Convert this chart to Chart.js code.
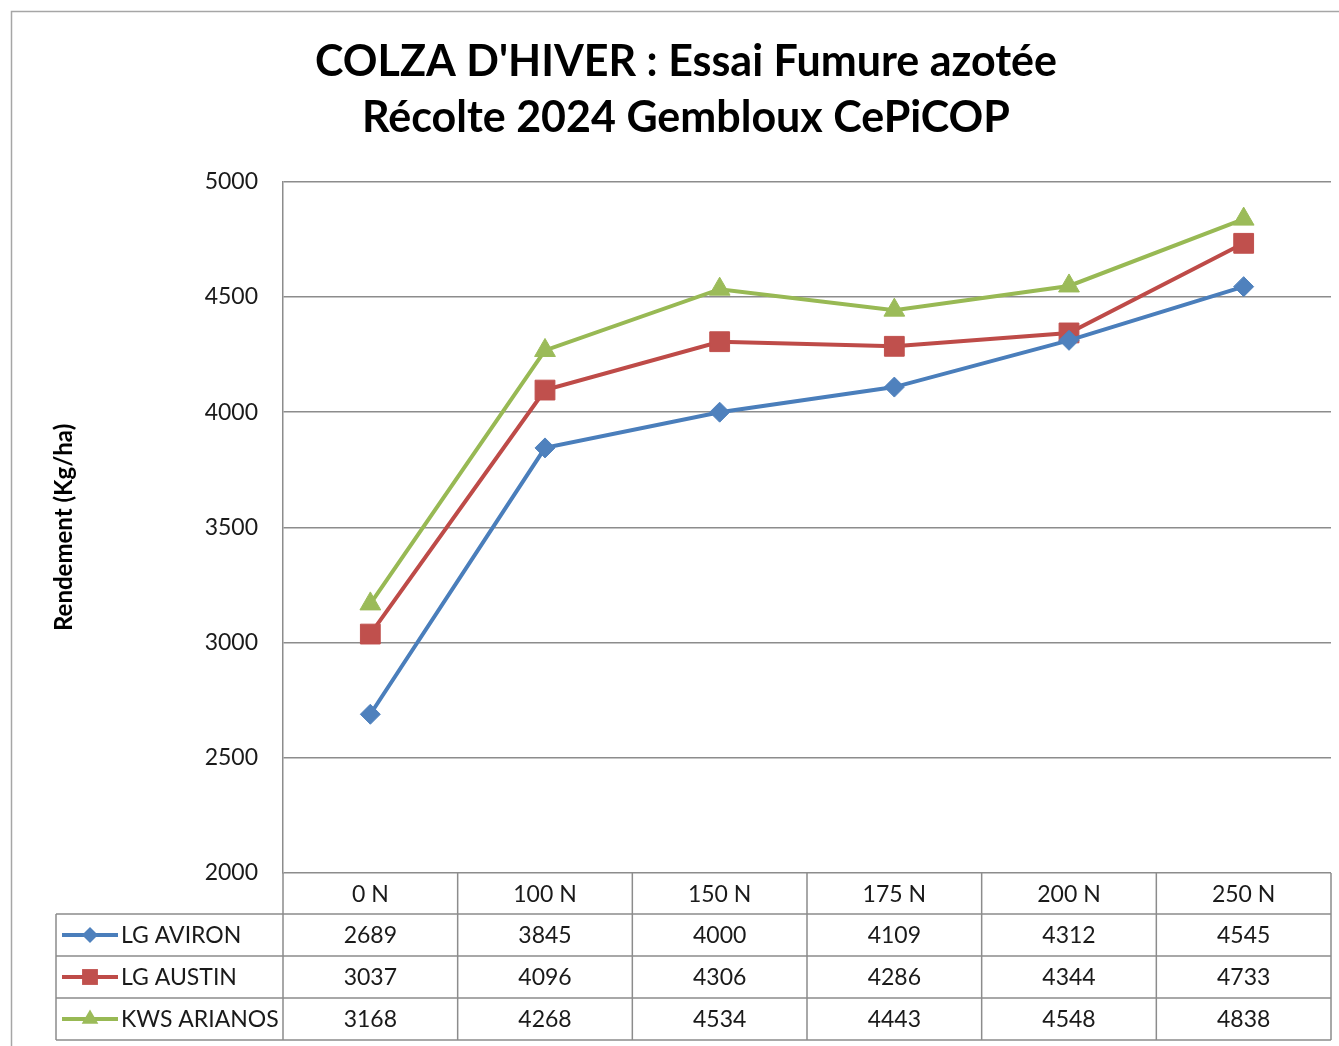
<!DOCTYPE html>
<html>
<head>
<meta charset="utf-8">
<script src="https://cdn.jsdelivr.net/npm/chart.js@4.4.1/dist/chart.umd.min.js"></script>
<style>
  body { margin: 0; background: #fff; overflow: hidden; }
  #wrap { width: 1339px; height: 1046px; }
  canvas { display: block; }
</style>
</head>
<body>
<div id="wrap"><canvas id="mycanvas" width="1339" height="1046"></canvas></div>
<script>
// data
var categories = ['0 N', '100 N', '150 N', '175 N', '200 N', '250 N'];
var seriesNames = ['LG AVIRON', 'LG AUSTIN', 'KWS ARIANOS'];
var lgAviron = [2689, 3845, 4000, 4109, 4312, 4545];
var lgAustin = [3037, 4096, 4306, 4286, 4344, 4733];
var kwsArianos = [3168, 4268, 4534, 4443, 4548, 4838];
var yMin = 2000, yMax = 5000, yStep = 500;

var FONT = 'Lato, "Open Sans", sans-serif';
var GRID = '#8c8c8c';

var seriesStyle = [
  { line: '#4a7ebb', fill: '#4f81bd', pointStyle: 'rectRot', radius: 10 },
  { line: '#be4b48', fill: '#c0504d', pointStyle: 'rect', radius: 14 },
  { line: '#98b954', fill: '#9bbb59', pointStyle: 'triangle', radius: 12 }
];
var seriesData = [lgAviron, lgAustin, kwsArianos];

var datasets = [];
for (var i = 0; i < seriesNames.length; i++) {
  datasets.push({
    label: seriesNames[i],
    data: seriesData[i],
    borderColor: seriesStyle[i].line,
    borderWidth: 4,
    backgroundColor: seriesStyle[i].fill,
    pointStyle: seriesStyle[i].pointStyle,
    pointRadius: seriesStyle[i].radius,
    pointHoverRadius: seriesStyle[i].radius,
    pointBackgroundColor: seriesStyle[i].fill,
    pointBorderColor: seriesStyle[i].fill,
    pointBorderWidth: 1,
    tension: 0
  });
}

function drawMarker(ctx, style, x, y) {
  var r = style.radius;
  ctx.fillStyle = style.fill;
  ctx.beginPath();
  if (style.pointStyle === 'rectRot') {
    ctx.moveTo(x, y - r); ctx.lineTo(x + r, y); ctx.lineTo(x, y + r); ctx.lineTo(x - r, y);
  } else if (style.pointStyle === 'rect') {
    var s = r * Math.SQRT1_2;
    ctx.rect(x - s, y - s, 2 * s, 2 * s);
  } else {
    ctx.moveTo(x, y - r);
    ctx.lineTo(x + Math.sin(2 * Math.PI / 3) * r, y - Math.cos(2 * Math.PI / 3) * r);
    ctx.lineTo(x + Math.sin(4 * Math.PI / 3) * r, y - Math.cos(4 * Math.PI / 3) * r);
  }
  ctx.closePath();
  ctx.fill();
}

// outer frame + data table under the plot
var tablePlugin = {
  id: 'dataTable',
  beforeDraw: function(chart) {
    var ctx = chart.ctx;
    ctx.save();
    ctx.strokeStyle = '#a6a6a6';
    ctx.lineWidth = 1.5;
    ctx.strokeRect(11.5, 11.5, 2000, 2000);
    ctx.restore();
  },
  afterDraw: function(chart) {
    var ctx = chart.ctx;
    var area = chart.chartArea;
    var xs = chart.scales.x;
    var half = (xs.getPixelForValue(1) - xs.getPixelForValue(0)) / 2;
    var top = area.bottom;
    var headH = 41, rowH = 42;
    var legendLeft = 56;
    var bottom = top + headH + rowH * seriesNames.length;

    ctx.save();
    ctx.strokeStyle = GRID;
    ctx.lineWidth = 1.5;
    ctx.beginPath();
    // horizontal lines
    for (var r = 0; r <= seriesNames.length; r++) {
      var y = top + headH + r * rowH;
      ctx.moveTo(legendLeft, y); ctx.lineTo(area.right, y);
    }
    // vertical lines
    ctx.moveTo(legendLeft, top + headH); ctx.lineTo(legendLeft, bottom);
    for (var c = 0; c <= categories.length; c++) {
      var x = c < categories.length ? xs.getPixelForValue(c) - half : area.right;
      ctx.moveTo(x, top); ctx.lineTo(x, bottom);
    }
    ctx.stroke();

    ctx.fillStyle = '#1a1a1a';
    ctx.font = '23px ' + FONT;
    ctx.textAlign = 'center';
    ctx.textBaseline = 'middle';
    for (var k = 0; k < categories.length; k++) {
      var cx = xs.getPixelForValue(k);
      ctx.fillText(categories[k], cx, top + headH / 2 + 1);
      for (var s = 0; s < seriesNames.length; s++) {
        ctx.fillText(String(seriesData[s][k]), cx, top + headH + s * rowH + rowH / 2 + 1);
      }
    }

    // legend keys
    for (var s2 = 0; s2 < seriesNames.length; s2++) {
      var ry = top + headH + s2 * rowH + rowH / 2;
      var st = seriesStyle[s2];
      ctx.strokeStyle = st.line;
      ctx.lineWidth = 4;
      ctx.beginPath();
      ctx.moveTo(62, ry); ctx.lineTo(118, ry);
      ctx.stroke();
      drawMarker(ctx, { fill: st.fill, pointStyle: st.pointStyle, radius: st.radius * 0.8 }, 90, ry);
      ctx.fillStyle = '#1a1a1a';
      ctx.textAlign = 'left';
      ctx.fillText(seriesNames[s2], 121, ry + 1);
    }
    ctx.restore();
  }
};

var ctx = document.getElementById('mycanvas');
var lineGraph = new Chart(ctx, {
  type: 'line',
  data: { labels: categories, datasets: datasets },
  options: {
    responsive: false,
    animation: false,
    events: [],
    layout: { autoPadding: false, padding: { top: 0, left: 41, right: 8, bottom: 173 } },
    plugins: {
      legend: { display: false },
      tooltip: { enabled: false },
      title: {
        display: true,
        text: ["COLZA D'HIVER : Essai Fumure azotée", 'Récolte 2024 Gembloux CePiCOP'],
        color: '#000',
        font: { family: FONT, size: 43, weight: 'bold', lineHeight: 1.3 },
        padding: { top: 34, bottom: 36 }
      }
    },
    scales: {
      x: {
        type: 'category',
        offset: true,
        display: false
      },
      y: {
        min: yMin,
        max: yMax,
        afterFit: function(scale) { scale.width = 242; },
        ticks: {
          stepSize: yStep,
          padding: 25,
          color: '#1a1a1a',
          font: { family: FONT, size: 23 },
          callback: function(v) { return String(v); }
        },
        grid: { color: GRID, lineWidth: 1.5, drawTicks: false },
        border: { display: true, color: GRID, width: 1.5 },
        title: {
          display: true,
          text: 'Rendement (Kg/ha)',
          color: '#000',
          font: { family: FONT, size: 24, weight: 'bold', lineHeight: 1.2 },
          padding: { top: 9, bottom: 0 }
        }
      }
    }
  },
  plugins: [tablePlugin]
});
</script>
</body>
</html>
